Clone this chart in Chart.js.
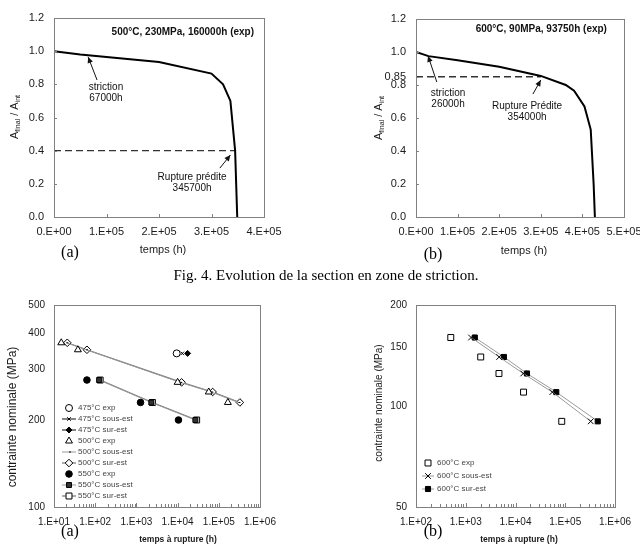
<!DOCTYPE html>
<html>
<head>
<meta charset="utf-8">
<script src="https://cdn.jsdelivr.net/npm/chart.js@4.4.1/dist/chart.umd.min.js"></script>
<style>
html, body { margin: 0; padding: 0; background: #fff; overflow: hidden; width: 640px; height: 556px; }
canvas { position: absolute; }
.lab { position: absolute; font-family: "Liberation Serif", "Times New Roman", serif; color: #000; white-space: nowrap; transform: translate(-50%, -50%); }
</style>
</head>
<body>
<canvas id="cA" width="300" height="262" style="left:0;top:0"></canvas>
<canvas id="cB" width="340" height="262" style="left:320px;top:0"></canvas>
<canvas id="cC" width="300" height="262" style="left:0;top:290px"></canvas>
<canvas id="cD" width="320" height="262" style="left:320px;top:290px"></canvas>

<div class="lab" style="left:70px;top:252px;font-size:16px">(a)</div>
<div class="lab" style="left:433px;top:254px;font-size:16px">(b)</div>
<div class="lab" style="left:326px;top:275px;font-size:15px">Fig. 4. Evolution de la section en zone de striction.</div>
<div class="lab" style="left:70px;top:531px;font-size:16px">(a)</div>
<div class="lab" style="left:433px;top:531px;font-size:16px">(b)</div>

<script>
// ---- données ----
// (a) haut : 500°C, 230MPa
const tempsA = [0, 50000, 100000, 200000, 300000, 322000, 336000, 345000, 349000];
const sectionA = [1.0, 0.98, 0.965, 0.935, 0.865, 0.80, 0.70, 0.40, 0.0];
const ruptTA = [0, 345000];
const ruptSA = [0.4, 0.4];
// (b) haut : 600°C, 90MPa
const tempsB = [0, 30000, 100000, 200000, 300000, 360000, 380000, 405000, 420000, 427000, 430000];
const sectionB = [1.0, 0.975, 0.95, 0.91, 0.855, 0.80, 0.765, 0.67, 0.53, 0.2, 0.0];
const ruptTB = [0, 300000];
const ruptSB = [0.85, 0.85];

// (a) bas : contrainte / temps à rupture
const t475exp = [9500], s475exp = [340];
const t475sous = [13000], s475sous = [340];
const t475sur = [17500], s475sur = [340];
const t500exp = [15, 38, 10000, 57000, 166000], s500exp = [370, 350, 270, 250, 230];
const t500sous = [20, 60, 11500, 65000, 300000], s500sous = [370, 350, 270, 250, 230];
const t500sur = [21, 63, 12500, 71000, 325000], s500sur = [370, 350, 270, 250, 230];
const t550exp = [63, 1260, 10500], s550exp = [275, 230, 200];
const t550sous = [125, 2300, 27000], s550sous = [275, 230, 200];
const t550sur = [132, 2450, 29000], s550sur = [275, 230, 200];
// (b) bas : 600°C
const t600exp = [500, 2000, 4650, 14500, 85000], s600exp = [160, 140, 125, 110, 90];
const t600sous = [1280, 4700, 14300, 55000, 325000], s600sous = [160, 140, 125, 110, 90];
const t600sur = [1520, 5850, 17000, 66000, 450000], s600sur = [160, 140, 125, 110, 90];

// graduations
const xTicksA = [0, 100000, 200000, 300000, 400000];
const xLabelsA = ['0.E+00', '1.E+05', '2.E+05', '3.E+05', '4.E+05'];
const xTicksB = [0, 100000, 200000, 300000, 400000, 500000];
const xLabelsB = ['0.E+00', '1.E+05', '2.E+05', '3.E+05', '4.E+05', '5.E+05'];
const yTicksA = [0, 0.2, 0.4, 0.6, 0.8, 1.0, 1.2];
const yLabelsA = ['0.0', '0.2', '0.4', '0.6', '0.8', '1.0', '1.2'];
const yTicksB = [0, 0.2, 0.4, 0.6, 0.8, 0.85, 1.0, 1.2];
const yLabelsB = ['0.0', '0.2', '0.4', '0.6', '0.8', '0.85', '1.0', '1.2'];
const xTicksC = [10, 100, 1000, 10000, 100000, 1000000];
const xLabelsC = ['1.E+01', '1.E+02', '1.E+03', '1.E+04', '1.E+05', '1.E+06'];
const yTicksC = [100, 200, 300, 400, 500];
const yLabelsC = ['100', '200', '300', '400', '500'];
const xTicksD = [100, 1000, 10000, 100000, 1000000];
const xLabelsD = ['1.E+02', '1.E+03', '1.E+04', '1.E+05', '1.E+06'];
const yTicksD = [50, 100, 150, 200];
const yLabelsD = ['50', '100', '150', '200'];

Chart.defaults.font.family = '"Liberation Sans", Arial, sans-serif';
Chart.defaults.color = '#1a1a1a';

const FONT = '"Liberation Sans", Arial, sans-serif';
const decorCfg = {};

function pts(xs, ys) {
    return xs.map((x, i) => ({ x: x, y: ys[i] }));
}

function fleche(ctx, x1, y1, x2, y2) {
    ctx.beginPath();
    ctx.moveTo(x1, y1);
    ctx.lineTo(x2, y2);
    ctx.stroke();
    const a = Math.atan2(y2 - y1, x2 - x1), L = 6, W = 2.8;
    ctx.beginPath();
    ctx.moveTo(x2, y2);
    ctx.lineTo(x2 - L * Math.cos(a) + W * Math.sin(a), y2 - L * Math.sin(a) - W * Math.cos(a));
    ctx.lineTo(x2 - L * Math.cos(a) - W * Math.sin(a), y2 - L * Math.sin(a) + W * Math.cos(a));
    ctx.closePath();
    ctx.fill();
}

const decor = {
    id: 'decor',
    afterDraw(chart) {
        const c = decorCfg[chart.canvas.id];
        if (!c) return;
        const ctx = chart.ctx, a = chart.chartArea;
        const xs = chart.scales.x, ys = chart.scales.y;
        const px = v => xs.getPixelForValue(v), py = v => ys.getPixelForValue(v);
        ctx.save();

        // cadre
        ctx.strokeStyle = '#808080';
        ctx.lineWidth = 1;
        ctx.strokeRect(Math.round(a.left) + 0.5, Math.round(a.top) + 0.5, Math.round(a.width), Math.round(a.height));

        // petites graduations
        ctx.beginPath();
        if (c.minorX) {
            for (let d = Math.log10(xs.min); d < Math.log10(xs.max); d++) {
                for (let k = 1; k < 10; k++) {
                    const x = Math.round(px(k * Math.pow(10, d))) + 0.5;
                    const h = k === 1 ? 4 : 3;
                    ctx.moveTo(x, a.bottom);
                    ctx.lineTo(x, a.bottom - h);
                }
            }
        }
        if (c.tickY) {
            ys.ticks.forEach(t => {
                const y = Math.round(py(t.value)) + 0.5;
                ctx.moveTo(a.left, y);
                ctx.lineTo(a.left + 3, y);
            });
        }
        if (c.tickX) {
            xs.ticks.forEach(t => {
                const x = Math.round(px(t.value)) + 0.5;
                ctx.moveTo(x, a.bottom);
                ctx.lineTo(x, a.bottom - 3);
            });
        }
        ctx.stroke();

        ctx.fillStyle = '#111';
        ctx.strokeStyle = '#111';
        ctx.textBaseline = 'middle';

        // titre dans le graphe
        if (c.titre) {
            ctx.font = 'bold 10px ' + FONT;
            ctx.textAlign = 'right';
            ctx.fillText(c.titre.text, px(c.titre.x), py(c.titre.y));
        }

        // notes et flèches
        (c.notes || []).forEach(n => {
            ctx.font = '10px ' + FONT;
            ctx.textAlign = 'center';
            n.lines.forEach((l, i) => ctx.fillText(l, px(n.x), py(n.y) + i * 11.5));
        });
        ctx.lineWidth = 1;
        (c.fleches || []).forEach(f => fleche(ctx, px(f[0]), py(f[1]), px(f[2]), py(f[3])));

        // légende
        if (c.legende) {
            const L = c.legende;
            const H = Chart.helpers;
            chart.data.datasets.forEach((ds, i) => {
                const y = L.y + i * L.dy;
                if (ds.showLine) {
                    ctx.strokeStyle = ds.borderColor;
                    ctx.lineWidth = ds.borderWidth;
                    ctx.beginPath();
                    ctx.moveTo(L.x - L.half, y);
                    ctx.lineTo(L.x + L.half, y);
                    ctx.stroke();
                }
                ctx.fillStyle = ds.pointBackgroundColor;
                ctx.strokeStyle = ds.pointBorderColor;
                ctx.lineWidth = ds.pointBorderWidth;
                H.drawPoint(ctx, { pointStyle: ds.pointStyle, radius: ds.pointRadius, rotation: 0, borderWidth: ds.pointBorderWidth }, L.x, y);
                ctx.fillStyle = '#444';
                ctx.font = L.size + 'px ' + FONT;
                ctx.textAlign = 'left';
                ctx.fillText(ds.label, L.tx, y);
            });
        }

        // titres des axes
        ctx.fillStyle = '#1a1a1a';
        if (c.xTitre) {
            ctx.font = c.xTitre.font;
            ctx.textAlign = 'center';
            ctx.fillText(c.xTitre.text, c.xTitre.x, c.xTitre.y);
        }
        if (c.yTitre) {
            const Y = c.yTitre;
            ctx.translate(Y.x, Y.y);
            ctx.rotate(-Math.PI / 2);
            let w = 0;
            Y.parts.forEach(p => { ctx.font = p[1] + 'px ' + FONT; w += ctx.measureText(p[0]).width; });
            let x = -w / 2;
            ctx.textAlign = 'left';
            Y.parts.forEach(p => {
                ctx.font = p[1] + 'px ' + FONT;
                ctx.fillText(p[0], x, p[2]);
                x += ctx.measureText(p[0]).width;
            });
        }
        ctx.restore();
    }
};

function axe(type, min, max, ticks, labels, size, pad, key, val) {
    return {
        type: type, min: min, max: max,
        grid: { display: false, drawTicks: false },
        border: { display: false },
        afterBuildTicks: s => { s.ticks = ticks.map(v => ({ value: v })); },
        afterFit: s => { s[key] = val; },
        ticks: {
            autoSkip: false, maxRotation: 0, minRotation: 0, padding: pad,
            color: '#1a1a1a', font: { size: size },
            callback: (v, i) => labels[i]
        }
    };
}

function options(x, y, pad) {
    return {
        responsive: false, animation: false, events: [],
        layout: { padding: pad },
        plugins: { legend: { display: false }, tooltip: { enabled: false } },
        scales: { x: x, y: y }
    };
}

function courbe(xs, ys, color, width, dash) {
    return { data: pts(xs, ys), showLine: true, borderColor: color, borderWidth: width,
             borderDash: dash || [], pointRadius: 0, fill: false, tension: 0 };
}

function serie(label, xs, ys, style, r, fillCol, line, lineCol, lineW) {
    return {
        label: label, data: pts(xs, ys), showLine: line,
        borderColor: lineCol || '#777', borderWidth: lineW || 1.2,
        pointStyle: style, pointRadius: r, pointBackgroundColor: fillCol,
        pointBorderColor: '#000', pointBorderWidth: 1, fill: false
    };
}

// ---- (a) haut ----
decorCfg.cA = {
    tickY: true, tickX: true,
    titre: { x: 381000, y: 1.116, text: '500°C, 230MPa, 160000h (exp)' },
    notes: [
        { x: 99000, y: 0.784, lines: ['striction', '67000h'] },
        { x: 263000, y: 0.241, lines: ['Rupture prédite', '345700h'] }
    ],
    fleches: [[82000, 0.826, 65000, 0.965], [316000, 0.295, 336000, 0.374]],
    xTitre: { x: 163, y: 250, text: 'temps (h)', font: '11px ' + FONT },
    yTitre: { x: 15, y: 117, parts: [['A', 11, 0], ['final', 7, 3], [' / A', 11, 0], ['int', 7, 3]] }
};
new Chart(document.getElementById('cA'), {
    type: 'scatter',
    data: { datasets: [courbe(tempsA, sectionA, '#000', 2), courbe(ruptTA, ruptSA, '#333', 1.3, [7, 4])] },
    options: options(
        axe('linear', 0, 400000, xTicksA, xLabelsA, 11, 8, 'height', 45),
        axe('linear', 0, 1.2, yTicksA, yLabelsA, 11, 10, 'width', 54),
        { top: 18, right: 36, left: 0, bottom: 0 }),
    plugins: [decor]
});

// ---- (b) haut ----
decorCfg.cB = {
    tickY: true, tickX: true,
    titre: { x: 459000, y: 1.139, text: '600°C, 90MPa, 93750h (exp)' },
    notes: [
        { x: 77000, y: 0.752, lines: ['striction', '26000h'] },
        { x: 267000, y: 0.673, lines: ['Rupture Prédite', '354000h'] }
    ],
    fleches: [[50000, 0.818, 29000, 0.976], [281000, 0.745, 300000, 0.83]],
    xTitre: { x: 204, y: 251, text: 'temps (h)', font: '11px ' + FONT },
    yTitre: { x: 59, y: 118, parts: [['A', 11, 0], ['final', 7, 3], [' / A', 11, 0], ['int', 7, 3]] }
};
new Chart(document.getElementById('cB'), {
    type: 'scatter',
    data: { datasets: [courbe(tempsB, sectionB, '#000', 2), courbe(ruptTB, ruptSB, '#333', 1.3, [7, 4])] },
    options: options(
        axe('linear', 0, 500000, xTicksB, xLabelsB, 11, 8, 'height', 45),
        axe('linear', 0, 1.2, yTicksB, yLabelsB, 11, 10, 'width', 96),
        { top: 19, right: 36, left: 0, bottom: 0 }),
    plugins: [decor]
});

// ---- (a) bas ----
decorCfg.cC = {
    minorX: true,
    legende: { x: 69, half: 7, tx: 78, y: 118, dy: 11, size: 8 },
    xTitre: { x: 178, y: 250, text: 'temps à rupture (h)', font: 'bold 8.5px ' + FONT },
    yTitre: { x: 13, y: 127, parts: [['contrainte nominale (MPa)', 12, 0]] }
};
new Chart(document.getElementById('cC'), {
    type: 'scatter',
    data: { datasets: [
        serie('475°C exp', t475exp, s475exp, 'circle', 3.5, '#fff', false),
        serie('475°C sous-est', t475sous, s475sous, 'crossRot', 2.5, '#000', true, '#333', 1.2),
        serie('475°C sur-est', t475sur, s475sur, 'rectRot', 3, '#000', true, '#333', 1.2),
        serie('500°C exp', t500exp, s500exp, 'triangle', 4, '#fff', false),
        serie('500°C sous-est', t500sous, s500sous, 'dash', 2, '#000', true, '#999', 1),
        serie('500°C sur-est', t500sur, s500sur, 'rectRot', 3.8, '#fff', true, '#777', 1.2),
        serie('550°C exp', t550exp, s550exp, 'circle', 3.3, '#000', false),
        serie('550°C sous-est', t550sous, s550sous, 'rect', 3.5, '#333', true, '#999', 1),
        serie('550°C sur-est', t550sur, s550sur, 'rect', 4.2, '#fff', true, '#777', 1.2)
    ] },
    options: options(
        axe('logarithmic', 10, 1000000, xTicksC, xLabelsC, 10, 9, 'height', 45),
        axe('logarithmic', 100, 500, yTicksC, yLabelsC, 10, 9, 'width', 54),
        { top: 14, right: 40, left: 0, bottom: 0 }),
    plugins: [decor]
});

// ---- (b) bas ----
decorCfg.cD = {
    minorX: true,
    legende: { x: 108, half: 6, tx: 117, y: 173, dy: 13, size: 8 },
    xTitre: { x: 199, y: 250, text: 'temps à rupture (h)', font: 'bold 8.5px ' + FONT },
    yTitre: { x: 59, y: 113, parts: [['contrainte nominale (MPa)', 10, 0]] }
};
new Chart(document.getElementById('cD'), {
    type: 'scatter',
    data: { datasets: [
        serie('600°C exp', t600exp, s600exp, 'rect', 4.2, '#fff', false),
        serie('600°C sous-est', t600sous, s600sous, 'crossRot', 4, '#000', true, '#9a9a9a', 1),
        serie('600°C sur-est', t600sur, s600sur, 'rect', 3.6, '#000', true, '#9a9a9a', 1)
    ] },
    options: options(
        axe('logarithmic', 100, 1000000, xTicksD, xLabelsD, 10, 9, 'height', 45),
        axe('logarithmic', 50, 200, yTicksD, yLabelsD, 10, 9, 'width', 96),
        { top: 14, right: 19, left: 0, bottom: 0 }),
    plugins: [decor]
});
</script>
</body>
</html>
